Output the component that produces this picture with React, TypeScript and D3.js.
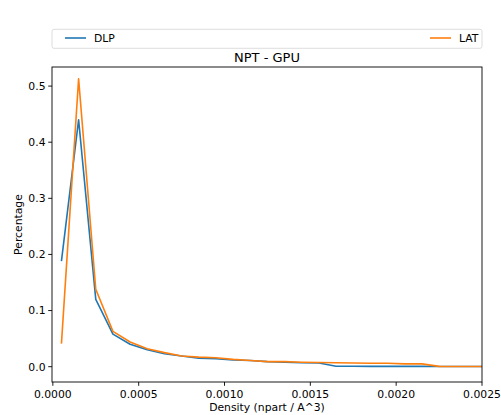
import React from "react";
import * as d3 from "d3";

const densities = [0.00005, 0.00015, 0.00025, 0.00035, 0.00045, 0.00055, 0.00065, 0.00075, 0.00085, 0.00095, 0.00105, 0.00115, 0.00125, 0.00135, 0.00145, 0.00155, 0.00165, 0.00175, 0.00185, 0.00195, 0.00205, 0.00215, 0.00225, 0.00235, 0.00245, 0.00255];
const dlp = [0.188, 0.44, 0.12, 0.058, 0.04, 0.03, 0.023, 0.019, 0.015, 0.014, 0.012, 0.011, 0.009, 0.008, 0.007, 0.0065, 0.0008, 0.0007, 0.0006, 0.0006, 0.0005, 0.0005, 0.0004, 0.0003, 0.0003, 0.0003];
const lat = [0.041, 0.513, 0.138, 0.063, 0.044, 0.032, 0.025, 0.019, 0.017, 0.016, 0.013, 0.011, 0.009, 0.009, 0.008, 0.0075, 0.007, 0.0065, 0.006, 0.006, 0.005, 0.005, 0.0005, 0.0004, 0.0003, 0.0003];
const xTicks = [0, 0.0005, 0.001, 0.0015, 0.002, 0.0025];
const yTicks = [0, 0.1, 0.2, 0.3, 0.4, 0.5];
const seriesNames = ["DLP", "LAT"];
const colors = ["#1f77b4", "#ff7f0e"];

const W = 501, H = 415;
const L = 52, R = 482, T = 67, B = 382;

export default function App() {
  const x = d3.scaleLinear().domain([-0.000005, 0.0025]).range([L, R]);
  const y = d3.scaleLinear().domain([-0.0273, 0.534]).range([B, T]);
  const line = d3.line<number>().x((_, i) => x(densities[i])).y((v) => y(v));
  const font = "'DejaVu Sans', sans-serif";
  const fs = 10.8;
  const series = [dlp, lat];
  return (
    <svg width={W} height={H} style={{ position: "absolute", left: 0, top: 0 }} fontFamily={font}>
      <rect width={W} height={H} fill="#fff" />
      <defs>
        <clipPath id="clip">
          <rect x={L} y={T} width={R - L} height={B - T} />
        </clipPath>
      </defs>
      <g clipPath="url(#clip)">
        {series.map((s, i) => (
          <path key={i} d={line(s) || ""} fill="none" stroke={colors[i]} strokeWidth={1.6} strokeLinejoin="round" />
        ))}
      </g>
      <rect x={L} y={T} width={R - L} height={B - T} fill="none" stroke="#000" strokeWidth={0.9} />
      {xTicks.map((t) => (
        <g key={t}>
          <line x1={x(t)} x2={x(t)} y1={B} y2={B + 3.8} stroke="#000" strokeWidth={0.9} />
          <text x={x(t)} y={397.5} textAnchor="middle" fontSize={fs} fill="#000">{t.toFixed(4)}</text>
        </g>
      ))}
      {yTicks.map((t) => (
        <g key={t}>
          <line x1={L - 3.8} x2={L} y1={y(t)} y2={y(t)} stroke="#000" strokeWidth={0.9} />
          <text x={L - 6.5} y={y(t) + 3.9} textAnchor="end" fontSize={fs} fill="#000">{t.toFixed(1)}</text>
        </g>
      ))}
      <text x={(L + R) / 2} y={411} textAnchor="middle" fontSize={fs} fill="#000">Density (npart / A^3)</text>
      <text transform={`translate(22,${(T + B) / 2}) rotate(-90)`} textAnchor="middle" fontSize={fs} fill="#000">Percentage</text>
      <text x={(L + R) / 2} y={61.5} textAnchor="middle" fontSize={13} fill="#000">NPT - GPU</text>
      <rect x={L} y={29.3} width={R - L} height={19} rx={2} fill="#fff" stroke="#d9d9d9" strokeWidth={0.9} />
      {seriesNames.map((n, i) => {
        const lx = i === 0 ? 65 : 430;
        return (
          <g key={n}>
            <line x1={lx} x2={lx + 21} y1={38} y2={38} stroke={colors[i]} strokeWidth={1.6} />
            <text x={lx + 29} y={41.8} fontSize={fs} fill="#000">{n}</text>
          </g>
        );
      })}
    </svg>
  );
}
